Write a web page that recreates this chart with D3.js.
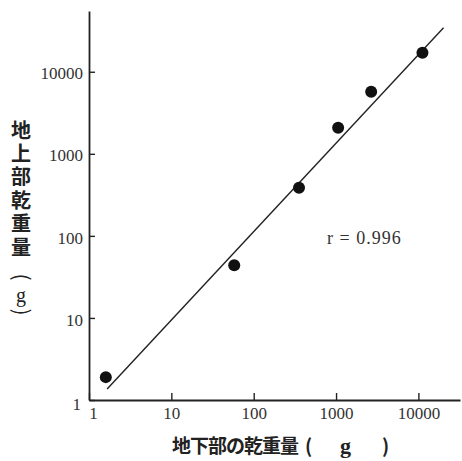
<!DOCTYPE html>
<html>
<head>
<meta charset="utf-8">
<script src="https://cdn.jsdelivr.net/npm/d3@7"></script>
<style>
body { margin: 0; background: #fff; }
svg { display: block; }
</style>
</head>
<body>
<svg id="chart" width="462" height="461"></svg>
<script>
// data (dry weight, g)
var belowGround = [1.6, 58, 355, 1060, 2670, 11200];
var aboveGround = [1.9, 44, 385, 2080, 5700, 17000];
var fitX = [1.66, 20200];
var fitY = [1.36, 34400];
var tickValues = [1, 10, 100, 1000, 10000];
var xTitle = "地下部の乾重量";
var yTitle = "地上部乾重量";
var unitParts = ["(", "g", ")"];
var rLabel = "r = 0.996";

var serif = "Liberation Serif, DejaVu Serif, serif";
var cjk = "Noto Sans CJK JP, sans-serif";

var svg = d3.select("#chart");

var x = d3.scaleLog()
    .domain([1, 32000])
    .range([89, 460]);

var y = d3.scaleLog()
    .domain([1, 55000])
    .range([400, 11]);

var fmt = function(d) { return String(d); };

// y axis, ticks pointing inward
var gy = svg.append("g")
    .attr("transform", "translate(" + x.range()[0] + ",0)")
    .call(d3.axisRight(y)
        .tickValues(tickValues)
        .tickFormat(fmt)
        .tickSize(6)
        .tickSizeOuter(0));
gy.attr("font-family", serif).attr("font-size", 17);
gy.select(".domain").attr("stroke", "#222").attr("stroke-width", 1.8);
gy.selectAll(".tick line").attr("stroke", "#222").attr("stroke-width", 1.4);
gy.selectAll(".tick text")
    .attr("fill", "#333")
    .attr("text-anchor", "end")
    .attr("x", -6)
    .attr("dy", "0.42em");

// x axis, ticks pointing up
var gx = svg.append("g")
    .attr("transform", "translate(0," + y.range()[0] + ")")
    .call(d3.axisTop(x)
        .tickValues(tickValues)
        .tickFormat(fmt)
        .tickSize(7)
        .tickSizeOuter(0));
gx.attr("font-family", serif).attr("font-size", 17);
gx.select(".domain").attr("stroke", "#222").attr("stroke-width", 1.8);
gx.selectAll(".tick line").attr("stroke", "#222").attr("stroke-width", 1.4);
gx.selectAll(".tick text")
    .attr("fill", "#333")
    .attr("y", 19)
    .attr("dy", 0);
// corner labels: "1" on x sits a bit right, "1" on y a bit lower
gx.selectAll(".tick").filter(function(d) { return d === 1; }).select("text")
    .attr("x", 4);
gy.selectAll(".tick").filter(function(d) { return d === 1; }).select("text")
    .attr("x", -8).attr("dy", "0.55em");

// regression line
svg.append("line")
    .attr("x1", x(fitX[0])).attr("y1", y(fitY[0]))
    .attr("x2", x(fitX[1])).attr("y2", y(fitY[1]))
    .attr("stroke", "#222")
    .attr("stroke-width", 1.4);

// points
svg.selectAll("circle")
    .data(belowGround)
  .enter().append("circle")
    .attr("cx", function(d) { return x(d); })
    .attr("cy", function(d, i) { return y(aboveGround[i]); })
    .attr("r", 6)
    .attr("fill", "#111");

svg.append("text")
    .attr("x", 327)
    .attr("y", 244)
    .attr("font-family", serif)
    .attr("font-size", 18)
    .style("letter-spacing", "1px")
    .attr("fill", "#333")
    .text(rLabel);

// x title, unit spaced out as in the print
var xt = svg.append("text")
    .attr("y", 453)
    .attr("font-family", cjk)
    .attr("font-weight", "bold")
    .attr("font-size", 19)
    .attr("fill", "#222");
xt.append("tspan")
    .attr("x", 172)
    .style("letter-spacing", "-1px")
    .text(xTitle);
xt.selectAll("tspan.unit")
    .data(unitParts)
  .enter().append("tspan")
    .attr("class", "unit")
    .attr("x", function(d, i) { return [305, 340, 382][i]; })
    .attr("font-family", function(d) { return d === "g" ? serif : cjk; })
    .attr("font-size", function(d) { return d === "g" ? 22 : 19; })
    .text(function(d) { return d; });

// y title, vertical
svg.append("text")
    .attr("x", 21)
    .attr("y", 120)
    .attr("font-family", cjk)
    .attr("font-weight", "bold")
    .attr("font-size", 20)
    .style("writing-mode", "vertical-rl")
    .style("letter-spacing", "3.4px")
    .attr("fill", "#222")
    .text(yTitle);

// unit under it: brackets turned a quarter, g upright
var unitY = [277, 302, 312];
svg.selectAll("text.yunit")
    .data(unitParts)
  .enter().append("text")
    .attr("class", "yunit")
    .attr("text-anchor", "middle")
    .attr("transform", function(d, i) {
        return d === "g" ? "translate(21," + unitY[i] + ")"
                         : "translate(21," + unitY[i] + ") rotate(90)";
    })
    .attr("dy", function(d) { return d === "g" ? 0 : "0.35em"; })
    .attr("font-family", function(d) { return d === "g" ? serif : cjk; })
    .attr("font-size", function(d) { return d === "g" ? 20 : 21; })
    .attr("fill", "#222")
    .text(function(d) { return d; });
</script>
</body>
</html>
